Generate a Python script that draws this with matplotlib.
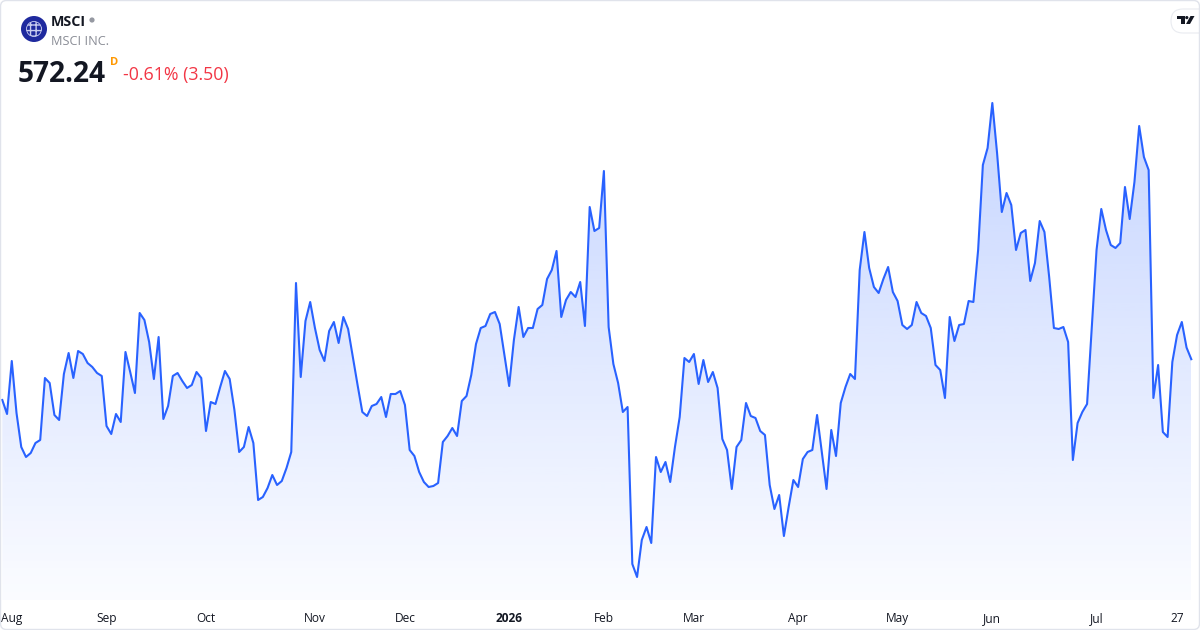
import matplotlib
matplotlib.use("Agg")
import matplotlib.pyplot as plt
import numpy as np
from matplotlib.patches import Circle, FancyBboxPatch, Polygon, Rectangle
from matplotlib.transforms import Affine2D, blended_transform_factory

# ---- data (daily closes) ----
prices = [
    560.0, 555.8, 571.7, 556.1, 545.9, 542.9, 544.1, 547.1, 548.0, 566.6,
    565.1, 555.5, 554.0, 567.8, 574.1, 566.6, 574.7, 573.8, 571.1, 569.9,
    568.1, 567.2, 552.2, 549.8, 555.8, 553.4, 574.4, 568.4, 562.1, 586.1,
    584.0, 577.4, 566.3, 578.9, 554.3, 558.2, 567.2, 568.1, 565.7, 563.6,
    564.5, 568.4, 566.6, 550.7, 559.4, 558.8, 563.9, 568.7, 566.3, 557.0,
    544.4, 545.9, 551.9, 547.1, 530.0, 530.9, 533.6, 537.5, 534.5, 535.7,
    539.6, 544.4, 595.1, 566.9, 583.7, 589.4, 581.6, 575.0, 571.7, 580.7,
    583.4, 577.1, 584.9, 581.3, 572.9, 564.5, 556.4, 555.2, 558.2, 558.8,
    560.9, 554.9, 561.8, 561.8, 562.7, 558.5, 545.0, 543.2, 538.4, 535.4,
    533.9, 534.2, 535.1, 547.4, 549.2, 551.6, 549.2, 559.7, 561.2, 567.5,
    576.8, 581.6, 582.2, 585.8, 586.4, 582.8, 573.5, 564.2, 578.0, 587.9,
    578.9, 581.6, 581.6, 587.3, 588.5, 596.3, 599.0, 604.7, 584.9, 590.0,
    592.4, 590.9, 595.4, 582.2, 617.9, 610.7, 611.6, 628.7, 581.9, 570.8,
    565.1, 556.4, 557.9, 510.8, 506.9, 518.0, 521.9, 517.1, 542.9, 538.4,
    541.4, 535.4, 545.9, 554.9, 572.6, 571.4, 573.8, 564.8, 572.0, 565.4,
    568.4, 563.6, 548.3, 545.0, 533.3, 545.9, 548.0, 559.1, 555.2, 554.6,
    550.7, 549.5, 534.5, 527.3, 531.5, 519.2, 527.9, 536.0, 533.9, 542.3,
    544.4, 545.0, 555.5, 544.4, 533.3, 551.0, 543.2, 559.1, 563.9, 567.8,
    566.3, 599.0, 610.4, 599.6, 593.9, 592.1, 596.3, 599.9, 592.4, 589.7,
    582.5, 581.3, 582.5, 589.4, 586.1, 585.2, 581.6, 570.5, 569.0, 560.6,
    584.9, 577.7, 582.5, 582.8, 589.7, 589.4, 605.0, 630.5, 635.6, 649.1,
    634.1, 616.4, 622.1, 618.5, 605.0, 610.1, 611.0, 595.7, 601.1, 613.7,
    610.4, 596.9, 581.6, 581.3, 581.9, 577.4, 542.0, 553.1, 556.4, 558.8,
    581.9, 605.0, 617.3, 611.0, 606.5, 605.6, 607.1, 623.9, 614.3, 625.4,
    642.2, 632.9, 629.0, 560.6, 570.5, 550.4, 548.9, 571.4, 579.5, 583.4,
    575.74, 572.24,
]
tick_pos = [2, 22, 43, 66, 85, 107, 127, 146, 168, 189, 209, 231, 248]
tick_labels = ["Aug", "Sep", "Oct", "Nov", "Dec", "2026", "Feb", "Mar",
               "Apr", "May", "Jun", "Jul", "27"]
symbol = "MSCI"
company = "MSCI INC."
last_price = "572.24"
change_text = "-0.61% (3.50)"

FONT = ["Open Sans", "DejaVu Sans"]
W, H = 1200, 630
LINE = "#2962FF"
XL, XR = -0.486, 252.84

fig = plt.figure(figsize=(W / 100, H / 100), dpi=100)
fig.patch.set_facecolor("white")

ax = fig.add_axes([0, 30 / H, 1, 600 / H])
ax.patch.set_visible(False)
for s in ax.spines.values():
    s.set_visible(False)
ax.set_xticks([])
ax.set_yticks([])
YMIN, YMAX = 500, 680

x = np.arange(len(prices))
ax.plot(x, prices, color=LINE, lw=1.5, solid_joinstyle="round", zorder=3)

# gradient area fill
fb = ax.fill_between(x, prices, YMIN, color="none", lw=0)
n = 256
alpha = np.linspace(0.02, 0.32, n)
img = np.zeros((n, 1, 4))
img[..., 0] = 41 / 255
img[..., 1] = 98 / 255
img[..., 2] = 255 / 255
img[..., 3] = alpha[:, None]
im = ax.imshow(img, extent=[x[0], x[-1], YMIN, YMAX], origin="lower",
               aspect="auto", zorder=2, interpolation="bilinear")
im.set_clip_path(fb.get_paths()[0], transform=ax.transData)
ax.set_xlim(XL, XR)
ax.set_ylim(YMIN, YMAX)

# x-axis labels
btr = blended_transform_factory(ax.transData, fig.transFigure)
for p, lab in zip(tick_pos, tick_labels):
    ax.text(p, 1 - 622 / H, lab, transform=btr, ha="center", va="baseline",
            fontsize=8.6, color="#131722", family=FONT,
            fontweight="bold" if lab == "2026" else "normal", clip_on=False)

# pixel-space transform for header decorations
pt = Affine2D().scale(1 / W, -1 / H).translate(0, 1) + fig.transFigure

# outer rounded border
border = FancyBboxPatch((0.5, 0.5), W - 1, H - 1,
                        boxstyle="round,pad=0,rounding_size=6",
                        transform=pt, facecolor="none", edgecolor="#e0e3eb",
                        lw=1.0, zorder=10)
fig.add_artist(border)

# logo
fig.add_artist(Circle((34, 29), 13, transform=pt, facecolor="#1f2a9e",
                      edgecolor="none", zorder=5))
fig.add_artist(Circle((34, 29), 7.5, transform=pt, facecolor="none",
                      edgecolor="#c9cdf0", lw=0.6, hatch="+++", zorder=6))
fig.add_artist(Circle((92, 20), 2.6, transform=pt, facecolor="#9598a1",
                      edgecolor="none", zorder=5))

def ftext(px, py, s, **kw):
    fig.text(px / W, 1 - py / H, s, va="baseline", ha="left", family=FONT, **kw)

ftext(51, 26, symbol, fontsize=10.3, fontweight="bold", color="#131722")
ftext(51, 45, company, fontsize=9.2, color="#8a8d96")
ftext(18, 82, last_price, fontsize=20.2, fontweight="bold", color="#131722")
ftext(110, 65, "D", fontsize=8, fontweight="bold", color="#ff9800")
ftext(123, 80, change_text, fontsize=12.8, color="#f23645")

# TradingView badge (top right)
badge = FancyBboxPatch((1171, 9), 40, 24,
                       boxstyle="round,pad=0,rounding_size=12",
                       transform=pt, facecolor="white", edgecolor="#e9ebf0",
                       lw=0.8, zorder=8)
fig.add_artist(badge)
fig.add_artist(Rectangle((1177, 16), 7.5, 3, transform=pt,
                         facecolor="#131722", edgecolor="none", zorder=9))
fig.add_artist(Rectangle((1181, 16), 3.5, 8, transform=pt,
                         facecolor="#131722", edgecolor="none", zorder=9))
fig.add_artist(Circle((1186.8, 17.6), 1.6, transform=pt,
                      facecolor="#131722", edgecolor="none", zorder=9))
fig.add_artist(Polygon([(1190.5, 16), (1194.5, 16), (1190, 24), (1186, 24)],
                       closed=True, transform=pt, facecolor="#131722",
                       edgecolor="none", zorder=9))

fig.savefig("out.png", dpi=100, facecolor="white")
